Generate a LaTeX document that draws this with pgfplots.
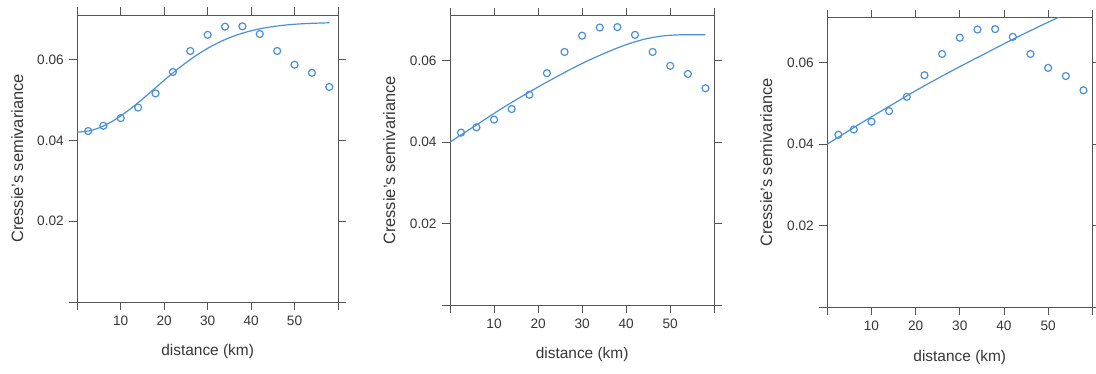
\documentclass[border=0pt]{standalone}
\usepackage{fontspec}
\setmainfont{Liberation Sans}
\usepackage{pgfplots}
\usepackage{pgfplotstable}
\pgfplotsset{compat=1.18}
\definecolor{vblue}{RGB}{74,144,217}
\definecolor{frame}{RGB}{85,85,85}
\definecolor{txt}{RGB}{55,55,55}

\pgfplotstableread{
x y
2.5 0.0423
6 0.0436
10 0.0455
14 0.0481
18 0.0516
22 0.0569
26 0.0621
30 0.0661
34 0.0681
38 0.0682
42 0.0663
46 0.0621
50 0.0587
54 0.0567
58 0.0532
}\empirical

\pgfplotstableread{
x y
0 0.04200
3 0.04239
6 0.04352
9 0.04531
12 0.04760
15 0.05022
18 0.05300
21 0.05577
24 0.05838
27 0.06073
30 0.06276
33 0.06444
36 0.06578
39 0.06681
42 0.06758
45 0.06813
48 0.06852
51 0.06878
54 0.06894
58 0.06908
}\fitA

\pgfplotstableread{
x y
0 0.0400
4 0.0428
8 0.0456
12 0.0484
16 0.0510
20 0.0535
24 0.0559
28 0.0582
32 0.0603
36 0.0622
40 0.0639
44 0.0652
48 0.0660
52 0.0663
58 0.0663
}\fitB

\pgfplotstableread{
x y
0 0.0400
5 0.0434
10 0.0467
15 0.0499
20 0.0531
25 0.0561
30 0.0590
35 0.0618
40 0.0646
45 0.0673
50 0.0699
55 0.0724
}\fitC

\pgfplotsset{
  lat/.style={
    scale only axis,
    xmin=0, xmax=60, ymin=0, ymax=0.071,
    scaled ticks=false,
    xtick={0,10,...,60},
    xticklabels={,10,20,30,40,50,},
    ytick={0,0.02,0.04,0.06},
    yticklabels={,0.02,0.04,0.06},
    tick align=outside,
    major tick length=8bp,
    xtick pos=both, ytick pos=both,
    axis line style={frame, line width=0.9bp},
    tick style={frame, line width=0.9bp},
    /pgf/number format/assume math mode=true,
    tick label style={font=\fontsize{13.7}{15}\selectfont, text=txt},
    xticklabel style={yshift=-2bp},
    yticklabel style={xshift=-2bp},
    xlabel={distance (km)},
    ylabel={Cressie's semivariance},
    xlabel style={at={(axis description cs:0.5,0)}, anchor=center, yshift=-50bp,
      font=\fontsize{15.5}{17}\selectfont, text=txt},
    ylabel style={at={(axis description cs:-0.23,0.5)}, anchor=center,
      font=\fontsize{16.5}{18}\selectfont, text=txt},
  },
  pts/.style={only marks, mark=o, mark size=3.5bp, mark options={line width=1.2bp, vblue}},
  fit/.style={no marks, line width=1.2bp, smooth},
}

\begin{document}
\begin{tikzpicture}
\useasboundingbox (0bp,0bp) rectangle (1096bp,374bp);

\begin{axis}[lat, at={(77.3bp,72bp)}, anchor=south west, width=260.7bp, height=287bp]
\addplot[pts] table[x=x,y=y] {\empirical};
\addplot[fit, vblue] table[x=x,y=y] {\fitA};
\end{axis}

\begin{axis}[lat, at={(450bp,69bp)}, anchor=south west, width=264.3bp, height=289.3bp]
\addplot[pts] table[x=x,y=y] {\empirical};
\addplot[fit, vblue] table[x=x,y=y] {\fitB};
\end{axis}

\begin{axis}[lat, at={(827.3bp,66.7bp)}, anchor=south west, width=265bp, height=289.6bp]
\addplot[pts] table[x=x,y=y] {\empirical};
\addplot[fit, vblue] table[x=x,y=y] {\fitC};
\end{axis}
\end{tikzpicture}
\end{document}
